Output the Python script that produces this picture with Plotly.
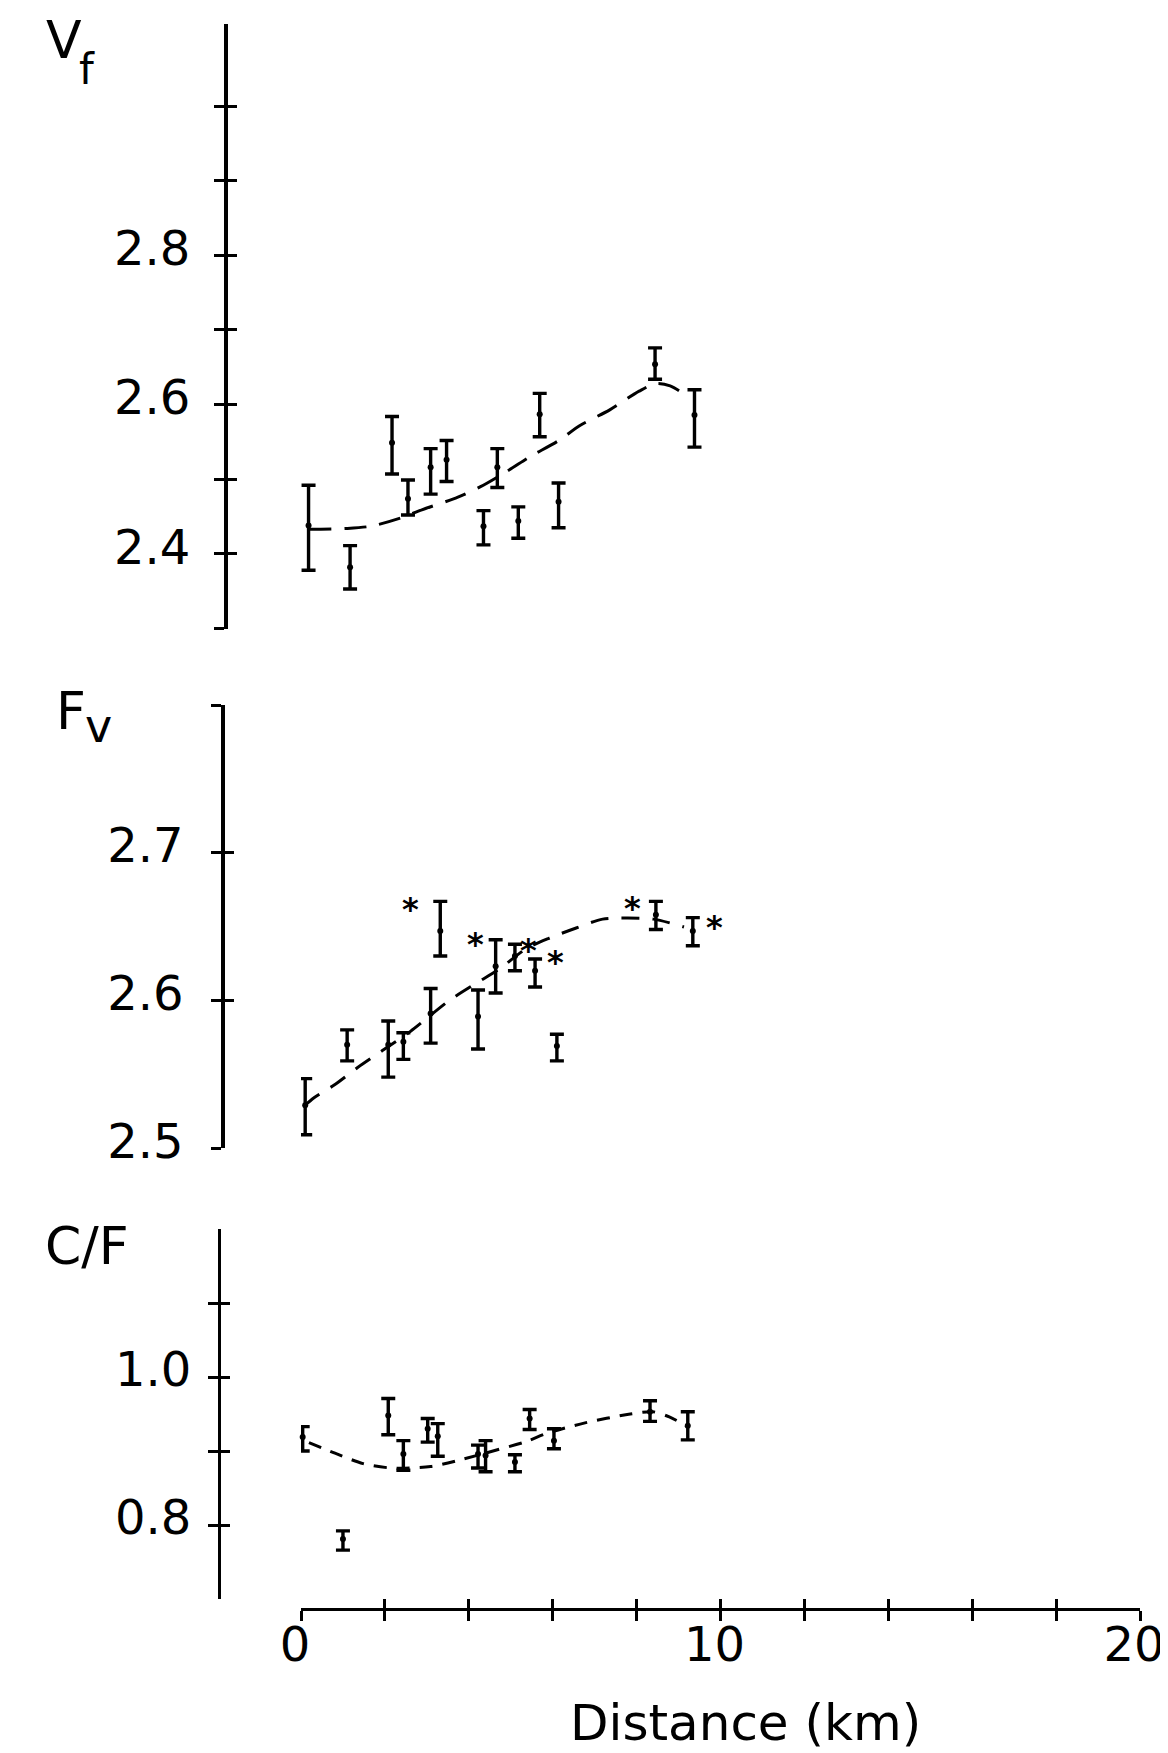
import plotly.graph_objects as go

# The page body keeps its default 8px margin, so the figure is drawn 8px in
# from the top-left corner of the 1168x1753 window.
PAGE_W, PAGE_H, BODY = 1168, 1753, 8
FW, FH = PAGE_W - BODY, PAGE_H - BODY

# ---------------- data ----------------
# Panel 1: V_f
vf_dist = [0.18, 1.17, 2.17, 2.55, 3.09, 3.47, 4.35, 4.68, 5.18, 5.69, 6.14, 8.44, 9.38]
vf_val = [2.438, 2.382, 2.549, 2.474, 2.516, 2.526, 2.437, 2.516, 2.444, 2.587, 2.470, 2.654, 2.586]
vf_hi = [2.492, 2.411, 2.584, 2.499, 2.541, 2.552, 2.458, 2.541, 2.463, 2.615, 2.495, 2.676, 2.620]
vf_lo = [2.378, 2.353, 2.507, 2.452, 2.480, 2.497, 2.412, 2.489, 2.421, 2.557, 2.435, 2.634, 2.543]
vf_fit_dist = [0.2, 0.47, 1.06, 1.66, 2.37, 2.88, 3.74, 4.28, 4.95, 5.45, 6.12, 6.65, 7.36, 8.06, 8.45, 8.80, 9.26]
vf_fit_val = [2.433, 2.433, 2.434, 2.437, 2.448, 2.459, 2.476, 2.490, 2.512, 2.530, 2.551, 2.572, 2.593, 2.618, 2.628, 2.625, 2.609]

# Panel 2: F_v
fv_dist = [0.10, 1.10, 2.08, 2.44, 3.09, 3.32, 4.22, 4.64, 5.10, 5.58, 6.10, 8.46, 9.34]
fv_val = [2.529, 2.570, 2.570, 2.572, 2.591, 2.647, 2.589, 2.623, 2.630, 2.620, 2.569, 2.658, 2.647]
fv_hi = [2.547, 2.580, 2.586, 2.578, 2.608, 2.667, 2.607, 2.641, 2.638, 2.628, 2.577, 2.667, 2.656]
fv_lo = [2.509, 2.559, 2.548, 2.560, 2.571, 2.630, 2.567, 2.605, 2.620, 2.609, 2.559, 2.648, 2.637]
fv_starred = [False, False, False, False, False, True, False, True, True, True, False, True, True]
fv_fit_dist = [0.10, 0.31, 0.81, 1.35, 1.94, 2.61, 3.54, 4.20, 4.72, 5.35, 5.91, 6.56, 7.19, 7.79, 8.40, 9.13]
fv_fit_val = [2.529, 2.534, 2.543, 2.5545, 2.566, 2.579, 2.600, 2.612, 2.621, 2.6346, 2.642, 2.649, 2.655, 2.6557, 2.655, 2.6497]

# Panel 3: C/F
cf_dist = [0.04, 1.00, 2.08, 2.44, 3.02, 3.26, 4.22, 4.40, 5.10, 5.45, 6.03, 8.32, 9.22]
cf_val = [0.919, 0.781, 0.948, 0.896, 0.930, 0.920, 0.896, 0.894, 0.885, 0.944, 0.914, 0.953, 0.934]
cf_hi = [0.933, 0.792, 0.971, 0.914, 0.944, 0.937, 0.908, 0.914, 0.895, 0.956, 0.930, 0.968, 0.953]
cf_lo = [0.900, 0.766, 0.922, 0.874, 0.912, 0.893, 0.877, 0.872, 0.872, 0.929, 0.903, 0.940, 0.915]
cf_fit_dist = [0.19, 0.81, 1.48, 2.16, 3.09, 3.86, 4.64, 5.38, 5.87, 6.77, 7.85, 8.39, 8.78, 9.22]
cf_fit_val = [0.9114, 0.897, 0.883, 0.877, 0.879, 0.889, 0.901, 0.913, 0.924, 0.938, 0.950, 0.953, 0.946, 0.933]

# axis ticks / labels
x_tickvals = [0, 2, 4, 6, 8, 10, 12, 14, 16, 18, 20]
x_ticktext = ["0", "", "", "", "", "10", "", "", "", "", "20"]
vf_tickvals = [2.3, 2.4, 2.5, 2.6, 2.7, 2.8, 2.9, 3.0]
vf_ticktext = ["", "2.4", "", "2.6", "", "2.8", "", ""]
fv_tickvals = [2.5, 2.6, 2.7, 2.8]
fv_ticktext = ["2.5", "2.6", "2.7", ""]
cf_tickvals = [0.8, 0.9, 1.0, 1.1]
cf_ticktext = ["0.8", "", "1.0", ""]

# ---------------- styling / layout helpers ----------------
FONT = "DejaVu Sans"


def fx(p):
    """window pixel x -> paper fraction"""
    return (p - BODY) / FW


def fy(p):
    """window pixel y -> paper fraction"""
    return 1 - (p - BODY) / FH


fig = go.Figure()


def add_panel(dist, val, hi, lo, fit_d, fit_v, yref, dash):
    fig.add_trace(go.Scatter(
        x=fit_d, y=fit_v, mode="lines", xaxis="x", yaxis=yref,
        line=dict(color="black", width=3, dash=dash, shape="spline", smoothing=0.8),
        showlegend=False, hoverinfo="skip"))
    fig.add_trace(go.Scatter(
        x=dist, y=val, mode="markers", xaxis="x", yaxis=yref, cliponaxis=False,
        marker=dict(size=6, color="black"),
        error_y=dict(type="data", symmetric=False,
                     array=[h - v for h, v in zip(hi, val)],
                     arrayminus=[v - l for v, l in zip(val, lo)],
                     color="black", thickness=3.4, width=7),
        showlegend=False))


add_panel(vf_dist, vf_val, vf_hi, vf_lo, vf_fit_dist, vf_fit_val, "y", "22px,13px")
add_panel(fv_dist, fv_val, fv_hi, fv_lo, fv_fit_dist, fv_fit_val, "y2", "18px,13px")
add_panel(cf_dist, cf_val, cf_hi, cf_lo, cf_fit_dist, cf_fit_val, "y3", "13px,10px")

# dummy traces so that overlay axes are drawn
for xa, ya in [("x2", "y3"), ("x", "y4"), ("x", "y5"), ("x", "y6")]:
    fig.add_trace(go.Scatter(x=[None], y=[None], xaxis=xa, yaxis=ya,
                             showlegend=False, hoverinfo="skip"))

tick_font = dict(family=FONT, size=48, color="black")


def y_main(rng, bottom_px, top_px, pos_px, tv, tt, lw, standoff, shift):
    return dict(range=rng, domain=[fy(bottom_px), fy(top_px)], anchor="free",
                position=fx(pos_px), showline=True, linecolor="black", linewidth=lw,
                ticks="outside", ticklen=10, tickwidth=3, tickcolor="black",
                tickmode="array", tickvals=tv, ticktext=tt, tickfont=tick_font,
                ticklabelstandoff=standoff, ticklabelshift=shift,
                showgrid=False, zeroline=False, fixedrange=True)


def y_over(over, rng, pos_px, tv):
    return dict(overlaying=over, range=rng, anchor="free", position=fx(pos_px),
                showline=False, ticks="inside", ticklen=10, tickwidth=3, tickcolor="black",
                tickmode="array", tickvals=tv, showticklabels=False,
                showgrid=False, zeroline=False, fixedrange=True)


VF_RNG, FV_RNG, CF_RNG = [2.3, 3.11], [2.5, 2.8], [0.7, 1.2]
VF_POS, FV_POS, CF_POS = 226, 223, 219
X_LINE = 1609

fig.update_layout(
    width=FW, height=FH,
    margin=dict(l=0, r=0, t=0, b=0, pad=0, autoexpand=False),
    paper_bgcolor="white", plot_bgcolor="white",
    font=dict(family=FONT, color="black"),
    xaxis=dict(range=[0, 20], domain=[fx(301), fx(1140)], anchor="free", position=fy(X_LINE),
               showline=True, linecolor="black", linewidth=3,
               ticks="outside", ticklen=10, tickwidth=3, tickcolor="black",
               tickmode="array", tickvals=x_tickvals, ticktext=x_ticktext,
               tickfont=dict(family=FONT, size=48, color="black"), ticklabelstandoff=-18,
               ticklabelshift=-6, ticklabeloverflow="allow",
               showgrid=False, zeroline=False, fixedrange=True),
    xaxis2=dict(overlaying="x", range=[0, 20], anchor="free", position=fy(X_LINE),
                showline=False, ticks="inside", ticklen=10, tickwidth=3, tickcolor="black",
                tickmode="array", tickvals=x_tickvals, showticklabels=False,
                showgrid=False, zeroline=False, fixedrange=True),
    yaxis=y_main(VF_RNG, 628.5, 24, VF_POS, vf_tickvals, vf_ticktext, 4, 14, -7),
    yaxis2=y_main(FV_RNG, 1148, 705, FV_POS, fv_tickvals, fv_ticktext, 3.5, 18, -7),
    yaxis3=y_main(CF_RNG, 1599, 1229, CF_POS, cf_tickvals, cf_ticktext, 3, 7, -8),
    yaxis4=y_over("y", VF_RNG, VF_POS, vf_tickvals),
    yaxis5=y_over("y2", FV_RNG, FV_POS, fv_tickvals),
    yaxis6=y_over("y3", CF_RNG, CF_POS, cf_tickvals),
)

# asterisks flagging points in the F_v panel
star_dx = [-30, -20, 14, 20, -23, 22]
star_dy = [-8, -4, -6, -3, -7, -9]
k = 0
for d, h, s in zip(fv_dist, fv_hi, fv_starred):
    if s:
        fig.add_annotation(x=d, y=h, xref="x", yref="y2", text="<b>*</b>", showarrow=False,
                           font=dict(family=FONT, size=32, color="black"),
                           xshift=star_dx[k], yshift=star_dy[k])
        k += 1


def label(text, x_px, y_px, size, anchor="left"):
    fig.add_annotation(x=fx(x_px), y=fy(y_px), xref="paper", yref="paper", text=text,
                       showarrow=False, xanchor=anchor, yanchor="middle",
                       font=dict(family=FONT, size=size, color="black"))


label("V", 44, 40, 52)
label("f", 77, 69, 42)
label("F", 54, 711, 52)
label("v", 83, 726, 46)
label("C/F", 43, 1246, 52)
label("Distance (km)", 745, 1723, 50, anchor="center")

fig.write_html("out.html", config={"displayModeBar": False})
